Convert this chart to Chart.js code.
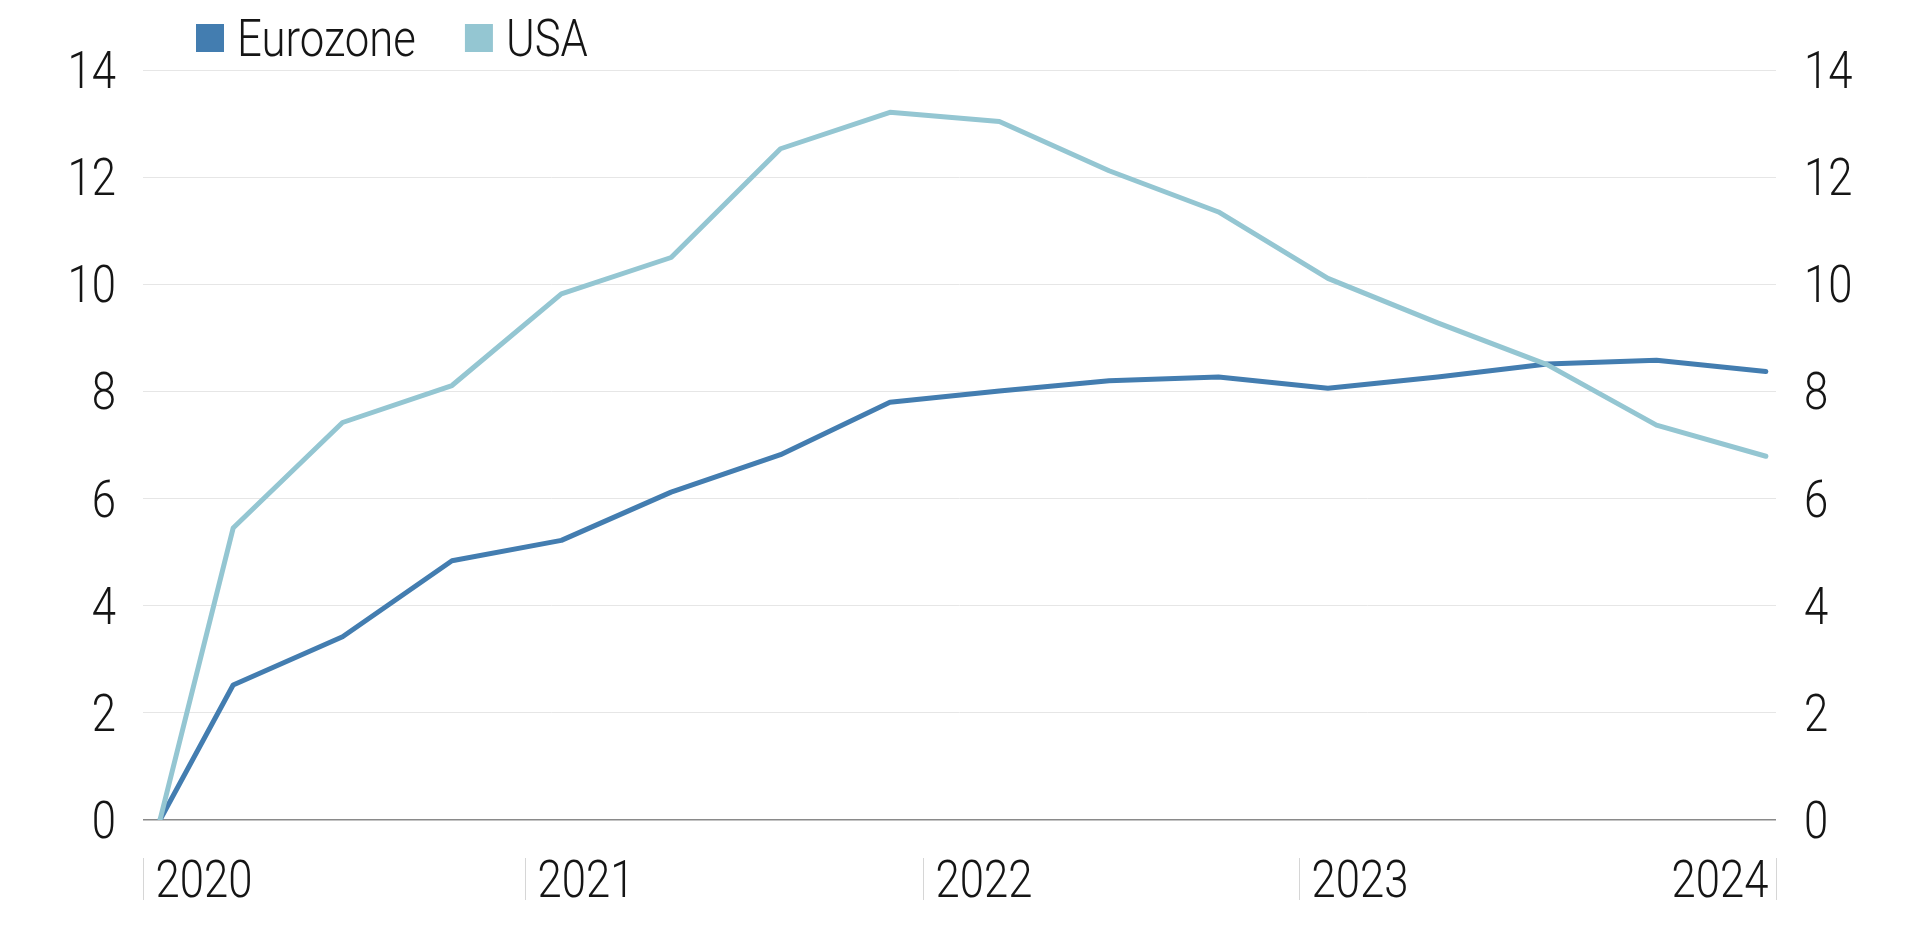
<!DOCTYPE html>
<html>
  <head>
    <meta charset="UTF-8" />
    <script src="https://cdn.jsdelivr.net/npm/chart.js"></script>
    <style>
      html,
      body {
        margin: 0;
        padding: 0;
        background: #ffffff;
      }
      #wrap {
        width: 1920px;
        height: 929px;
      }
    </style>
  </head>
  <body>
    <div id="wrap">
      <canvas id="cumChart" width="1920" height="929"></canvas>
    </div>
    <script>
      // months since Jan 2020 for each observation
      const periods = [
        0.52, 2.76, 6.11, 9.46, 12.81, 16.17, 19.52, 22.87, 26.22, 29.58,
        32.93, 36.28, 39.64, 42.99, 46.34, 49.69,
      ];
      const eurozone = [
        0, 2.52, 3.42, 4.84, 5.22, 6.12, 6.82, 7.8, 8.01, 8.2, 8.27, 8.06,
        8.27, 8.51, 8.58, 8.37,
      ];
      const usa = [
        0, 5.45, 7.42, 8.11, 9.82, 10.5, 12.53, 13.21, 13.04, 12.12, 11.35,
        10.11, 9.28, 8.5, 7.37, 6.79,
      ];
      const seriesNames = ["Eurozone", "USA"];
      const seriesColors = ["#437db0", "#94c6d2"];
      // year tick positions (same month units as periods) and their labels
      const yearTicks = [0, 11.7, 23.88, 35.4, 50];
      const yearLabels = ["2020", "2021", "2022", "2023", "2024"];

      // the original uses a thin condensed face; squeeze a light sans to get close
      const FONT = "300 52px Roboto, 'DejaVu Sans Condensed', sans-serif";
      const SQUEEZE = 0.84;
      const TEXT = "#151515";

      function toPoints(values) {
        return values.map((v, i) => ({ x: periods[i], y: v }));
      }

      function narrowText(ctx, str, x, y, align) {
        ctx.save();
        ctx.translate(x, y);
        ctx.scale(SQUEEZE, 1);
        ctx.font = FONT;
        ctx.fillStyle = TEXT;
        ctx.textAlign = align;
        ctx.textBaseline = "alphabetic";
        ctx.fillText(str, 0, 0);
        const w = ctx.measureText(str).width * SQUEEZE;
        ctx.restore();
        return w;
      }

      // legend drawn top-left, squares + names
      const legendPlugin = {
        id: "topLegend",
        afterDraw(chart) {
          const ctx = chart.ctx;
          let x = 196;
          seriesNames.forEach((name, i) => {
            ctx.fillStyle = seriesColors[i];
            ctx.fillRect(x, 24, 28, 28);
            const w = narrowText(ctx, name, x + 41, 56, "left");
            x += 41 + w + 49;
          });
        },
      };

      // year separators and labels under the axis, value labels on both sides
      const axisTextPlugin = {
        id: "axisText",
        afterDraw(chart) {
          const ctx = chart.ctx;
          const xs = chart.scales.x;
          const ys = chart.scales.y;
          yearTicks.forEach((v, i) => {
            const px = Math.round(xs.getPixelForValue(v)) + 0.5;
            ctx.save();
            ctx.strokeStyle = "#d6d6d6";
            ctx.lineWidth = 1;
            ctx.beginPath();
            ctx.moveTo(px, 858);
            ctx.lineTo(px, 900);
            ctx.stroke();
            ctx.restore();
            if (i === yearTicks.length - 1) {
              narrowText(ctx, yearLabels[i], px - 8, 897, "right");
            } else {
              narrowText(ctx, yearLabels[i], px + 12, 897, "left");
            }
          });
          ys.ticks.forEach((t) => {
            const py = ys.getPixelForValue(t.value) + 18;
            narrowText(ctx, String(t.value), chart.chartArea.left - 27, py, "right");
            narrowText(ctx, String(t.value), chart.chartArea.right + 28, py, "left");
          });
        },
      };

      new Chart(document.getElementById("cumChart"), {
        type: "line",
        data: {
          datasets: [
            {
              label: seriesNames[0],
              data: toPoints(eurozone),
              borderColor: seriesColors[0],
              borderWidth: 5,
              pointRadius: 0,
              tension: 0,
              borderCapStyle: "round",
              borderJoinStyle: "round",
              order: 1,
            },
            {
              label: seriesNames[1],
              data: toPoints(usa),
              borderColor: seriesColors[1],
              borderWidth: 5,
              pointRadius: 0,
              tension: 0,
              borderCapStyle: "round",
              borderJoinStyle: "round",
              order: 0,
            },
          ],
        },
        options: {
          responsive: false,
          animation: false,
          layout: { padding: { top: 70, left: 0, right: 0, bottom: 0 } },
          plugins: {
            legend: { display: false },
            tooltip: { enabled: false },
          },
          scales: {
            x: {
              type: "linear",
              min: 0,
              max: 50,
              ticks: { display: false },
              grid: { display: false },
              border: { display: false },
              afterFit(scale) {
                scale.height = 109;
              },
            },
            y: {
              position: "left",
              min: 0,
              max: 14,
              ticks: { display: false, stepSize: 2 },
              grid: {
                color: (c) => (c.tick && c.tick.value === 0 ? "#8a8a8a" : "#e6e6e6"),
                lineWidth: (c) => (c.tick && c.tick.value === 0 ? 1.5 : 1),
                drawTicks: false,
              },
              border: { display: false },
              afterFit(scale) {
                scale.width = 143;
              },
            },
            y2: {
              position: "right",
              display: true,
              min: 0,
              max: 14,
              ticks: { display: false, stepSize: 2 },
              grid: { display: false, drawTicks: false },
              border: { display: false },
              afterFit(scale) {
                scale.width = 144;
              },
            },
          },
        },
        plugins: [legendPlugin, axisTextPlugin],
      });
    </script>
  </body>
</html>
